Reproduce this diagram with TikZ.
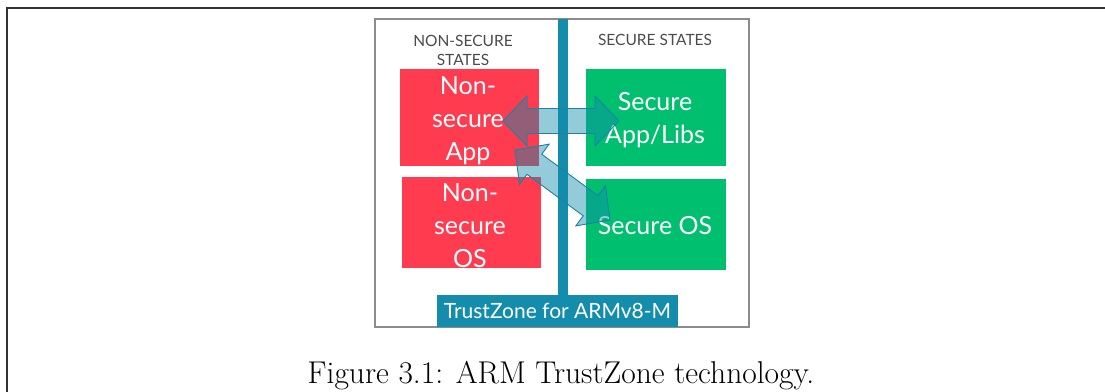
\documentclass[tikz,border=0pt]{standalone}
\usepackage{fontspec}
\newfontfamily\gill{Lato}
\definecolor{nsred}{RGB}{255,59,80}
\definecolor{sgreen}{RGB}{0,192,112}
\definecolor{tzblue}{RGB}{19,141,171}
\definecolor{hdgray}{RGB}{75,75,75}
\definecolor{boxgray}{RGB}{140,140,140}
\definecolor{arrowfill}{RGB}{17,140,170}
\definecolor{arrowline}{RGB}{25,130,165}
\tikzset{
  statebox/.style={rectangle, inner sep=0pt},
  statetext/.style={inner sep=0pt, align=center, text=white,
    font=\gill\fontsize{25}{33}\selectfont},
  header/.style={align=center, text=hdgray, inner sep=0pt,
    font=\gill\fontsize{15.5}{19}\selectfont},
  blockarrow/.style={fill=arrowfill, fill opacity=0.45, draw=arrowline, line width=0.9pt, line join=miter},
}
\begin{document}
\begin{tikzpicture}[x=1pt,y=-1pt]
\useasboundingbox (0,0) rectangle (1105,391);
% outer frame (continues beyond the crop)
\draw[line width=1.4pt, color=black!80] (1110,8) -- (7,8) -- (7,396);
% inner diagram frame
\draw[line width=2.4pt, color=boxgray] (375,19) rectangle (749,327);
% headers
\node[header] (nshead) at (463,50) {NON-SECURE\\STATES};
\node[header] (shead) at (655,40) {SECURE STATES};
% state boxes
\node[statebox, fill=nsred, minimum width=139pt, minimum height=97pt] (nsapp) at (469.5,117.5) {};
\node[statetext] (nsappT) at (468,121) {Non-\\secure\\App};
\node[statebox, fill=nsred, minimum width=139pt, minimum height=91pt] (nsos) at (471.5,222.5) {};
\node[statetext] (nsosT) at (470,226) {Non-\\secure\\OS};
\node[statebox, fill=sgreen, minimum width=140pt, minimum height=97pt] (sapp) at (656,117.5) {};
\node[statetext] (sappT) at (655,120) {Secure\\App/Libs};
\node[statebox, fill=sgreen, minimum width=140pt, minimum height=91pt] (sos) at (656,224.5) {};
\node[statetext] (sosT) at (655,225.5) {Secure OS};
% trustzone bar and label
\node[rectangle, fill=tzblue, inner sep=0pt, minimum width=241pt, minimum height=32pt,
      text=white, font=\gill\fontsize{21}{24}\selectfont] (tz) at (557.5,311) {TrustZone for ARMv8-M};
\fill[tzblue] (557.5,19) rectangle (568,296);
% block arrows
\coordinate (h1) at (503,121);
\draw[blockarrow] (h1) -- ++(24,-25) -- ++(0,12.5) -- ++(68,0) -- ++(0,-12.5) -- ++(24,25)
   -- ++(-24,25) -- ++(0,-12.5) -- ++(-68,0) -- ++(0,12.5) -- cycle;
\begin{scope}[shift={(515,150)}, rotate=-36.4]
\draw[blockarrow] (0,0) -- (24,-25) -- (24,-12.5) -- (94,-12.5) -- (94,-25) -- (118,0)
   -- (94,25) -- (94,12.5) -- (24,12.5) -- (24,25) -- cycle;
\end{scope}
% caption
\node[inner sep=0pt, font=\fontsize{31.5}{36}\selectfont] (cap) at (561,376) {Figure 3.1: ARM TrustZone technology.};
\end{tikzpicture}
\end{document}
